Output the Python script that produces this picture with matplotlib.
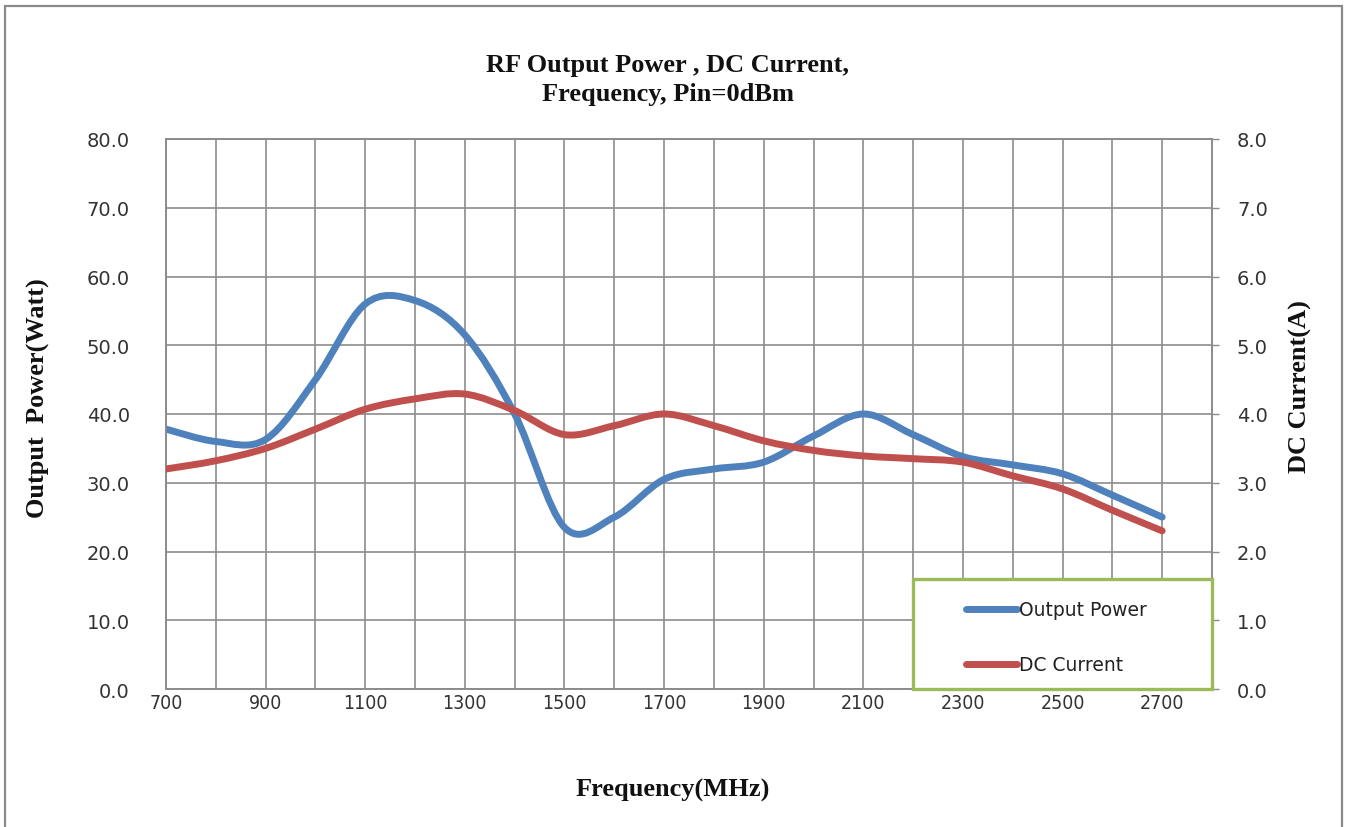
import matplotlib
matplotlib.use("Agg")
import matplotlib.pyplot as plt
from matplotlib.path import Path
from matplotlib.patches import PathPatch, Rectangle
from matplotlib.lines import Line2D
import numpy as np

# data
freq_mhz = [700, 800, 900, 1000, 1100, 1200, 1300, 1400, 1500, 1600, 1700,
            1800, 1900, 2000, 2100, 2200, 2300, 2400, 2500, 2600, 2700]
output_power_w = [37.8, 36.0, 36.3, 45.0, 56.0, 56.5, 51.5, 40.0, 23.5, 25.0, 30.5,
                  32.0, 33.0, 36.8, 40.0, 37.0, 33.8, 32.6, 31.3, 28.2, 25.0]
dc_current_a = [3.20, 3.32, 3.50, 3.78, 4.07, 4.22, 4.29, 4.05, 3.70, 3.83, 4.00,
                3.83, 3.61, 3.47, 3.39, 3.35, 3.30, 3.10, 2.91, 2.60, 2.30]

x_tick_labels = ["700", "900", "1100", "1300", "1500", "1700",
                 "1900", "2100", "2300", "2500", "2700"]
left_ticks = [0, 10, 20, 30, 40, 50, 60, 70, 80]
right_ticks = [0, 1, 2, 3, 4, 5, 6, 7, 8]

BLUE = "#4F81BD"
RED = "#C0504D"
GRID = "#8C8C8C"
GREEN = "#9BBB59"
SERIF = "Liberation Serif"


def smooth_path(xs, ys):
    # Excel-like smoothed line: cubic bezier segments with catmull-rom handles
    p = np.column_stack([xs, ys]).astype(float)
    n = len(p)
    verts = [p[0]]
    codes = [Path.MOVETO]
    for i in range(n - 1):
        prev = p[max(i - 1, 0)]
        nxt = p[min(i + 2, n - 1)]
        c1 = p[i] + (p[i + 1] - prev) / 6.0
        c2 = p[i + 1] - (nxt - p[i]) / 6.0
        verts += [c1, c2, p[i + 1]]
        codes += [Path.CURVE4] * 3
    return Path(verts, codes)


fig = plt.figure(figsize=(13.46, 8.28), dpi=100)
fig.patch.set_facecolor("white")

# outer chart border
fig.patches.append(Rectangle((5 / 1346, -0.02), 1337 / 1346, 1 - 7 / 828 + 0.02,
                             transform=fig.transFigure, fill=False,
                             edgecolor="#8a8a8a", linewidth=1.6))

ax = fig.add_axes([166 / 1346, 1 - 690 / 828, 1046 / 1346, 550 / 828])
ax2 = ax.twinx()

ax.set_xlim(700, 2800)
ax.set_ylim(0, 80)
ax2.set_ylim(0, 8)

ax.set_xticks(freq_mhz[::2])
ax.set_xticklabels(x_tick_labels, fontsize=14, fontstretch="condensed",
                   color="#333333")
ax.set_xticks(list(range(800, 2900, 200)), minor=True)
ax.set_yticks(left_ticks)
ax.set_yticklabels([f"{v:.1f}" for v in left_ticks], fontsize=14, color="#333333")
ax2.set_yticks(right_ticks)
ax2.set_yticklabels([f"{v:.1f}" for v in right_ticks], fontsize=14, color="#333333")

ax.grid(True, which="both", color=GRID, linewidth=1.2)
ax.set_axisbelow(True)
ax.tick_params(axis="x", which="both", length=0, pad=3)
ax.tick_params(axis="y", length=0, pad=26)
ax2.tick_params(axis="y", length=5, width=1.0, color=GRID, pad=13)

for a in (ax, ax2):
    for sp in a.spines.values():
        sp.set_color(GRID)
        sp.set_linewidth(1.2)

ax.add_patch(PathPatch(smooth_path(freq_mhz, output_power_w), fill=False,
                       edgecolor=BLUE, linewidth=5, capstyle="round", zorder=3))
ax2.add_patch(PathPatch(smooth_path(freq_mhz, dc_current_a), fill=False,
                        edgecolor=RED, linewidth=5, capstyle="round", zorder=3))

# legend box
ax2.add_patch(Rectangle((0.714, 0.0), 0.286, 0.2, transform=ax2.transAxes,
                        facecolor="white", edgecolor=GREEN, linewidth=2.4,
                        zorder=4, clip_on=False))
handles = [Line2D([0], [0], color=BLUE, lw=5, solid_capstyle="round"),
           Line2D([0], [0], color=RED, lw=5, solid_capstyle="round")]
leg = ax2.legend(handles, ["Output Power", "DC Current"], loc="center left",
                 bbox_to_anchor=(0.765, 0.094), frameon=False, fontsize=13.5,
                 handlelength=2.7, handletextpad=0.1, labelspacing=1.9,
                 borderpad=0, borderaxespad=0)
leg.set_zorder(6)
for t in leg.get_texts():
    t.set_color("#222222")

fig.text(668 / 1346, 1 - 80 / 828,
         "RF Output Power , DC Current,\nFrequency, Pin=0dBm",
         ha="center", va="center", family=SERIF, fontweight="bold",
         fontsize=19, linespacing=1.35, color="#111111")
fig.text(673 / 1346, 1 - 790 / 828, "Frequency(MHz)", ha="center", va="center",
         family=SERIF, fontweight="bold", fontsize=19, color="#111111")
fig.text(38 / 1346, 1 - 398 / 828, "Output  Power(Watt)", ha="center", va="center",
         rotation=90, family=SERIF, fontweight="bold", fontsize=19, color="#111111")
fig.text(1300 / 1346, 1 - 387 / 828, "DC Current(A)", ha="center", va="center",
         rotation=90, family=SERIF, fontweight="bold", fontsize=19, color="#111111")

fig.savefig("out.png", dpi=100)
